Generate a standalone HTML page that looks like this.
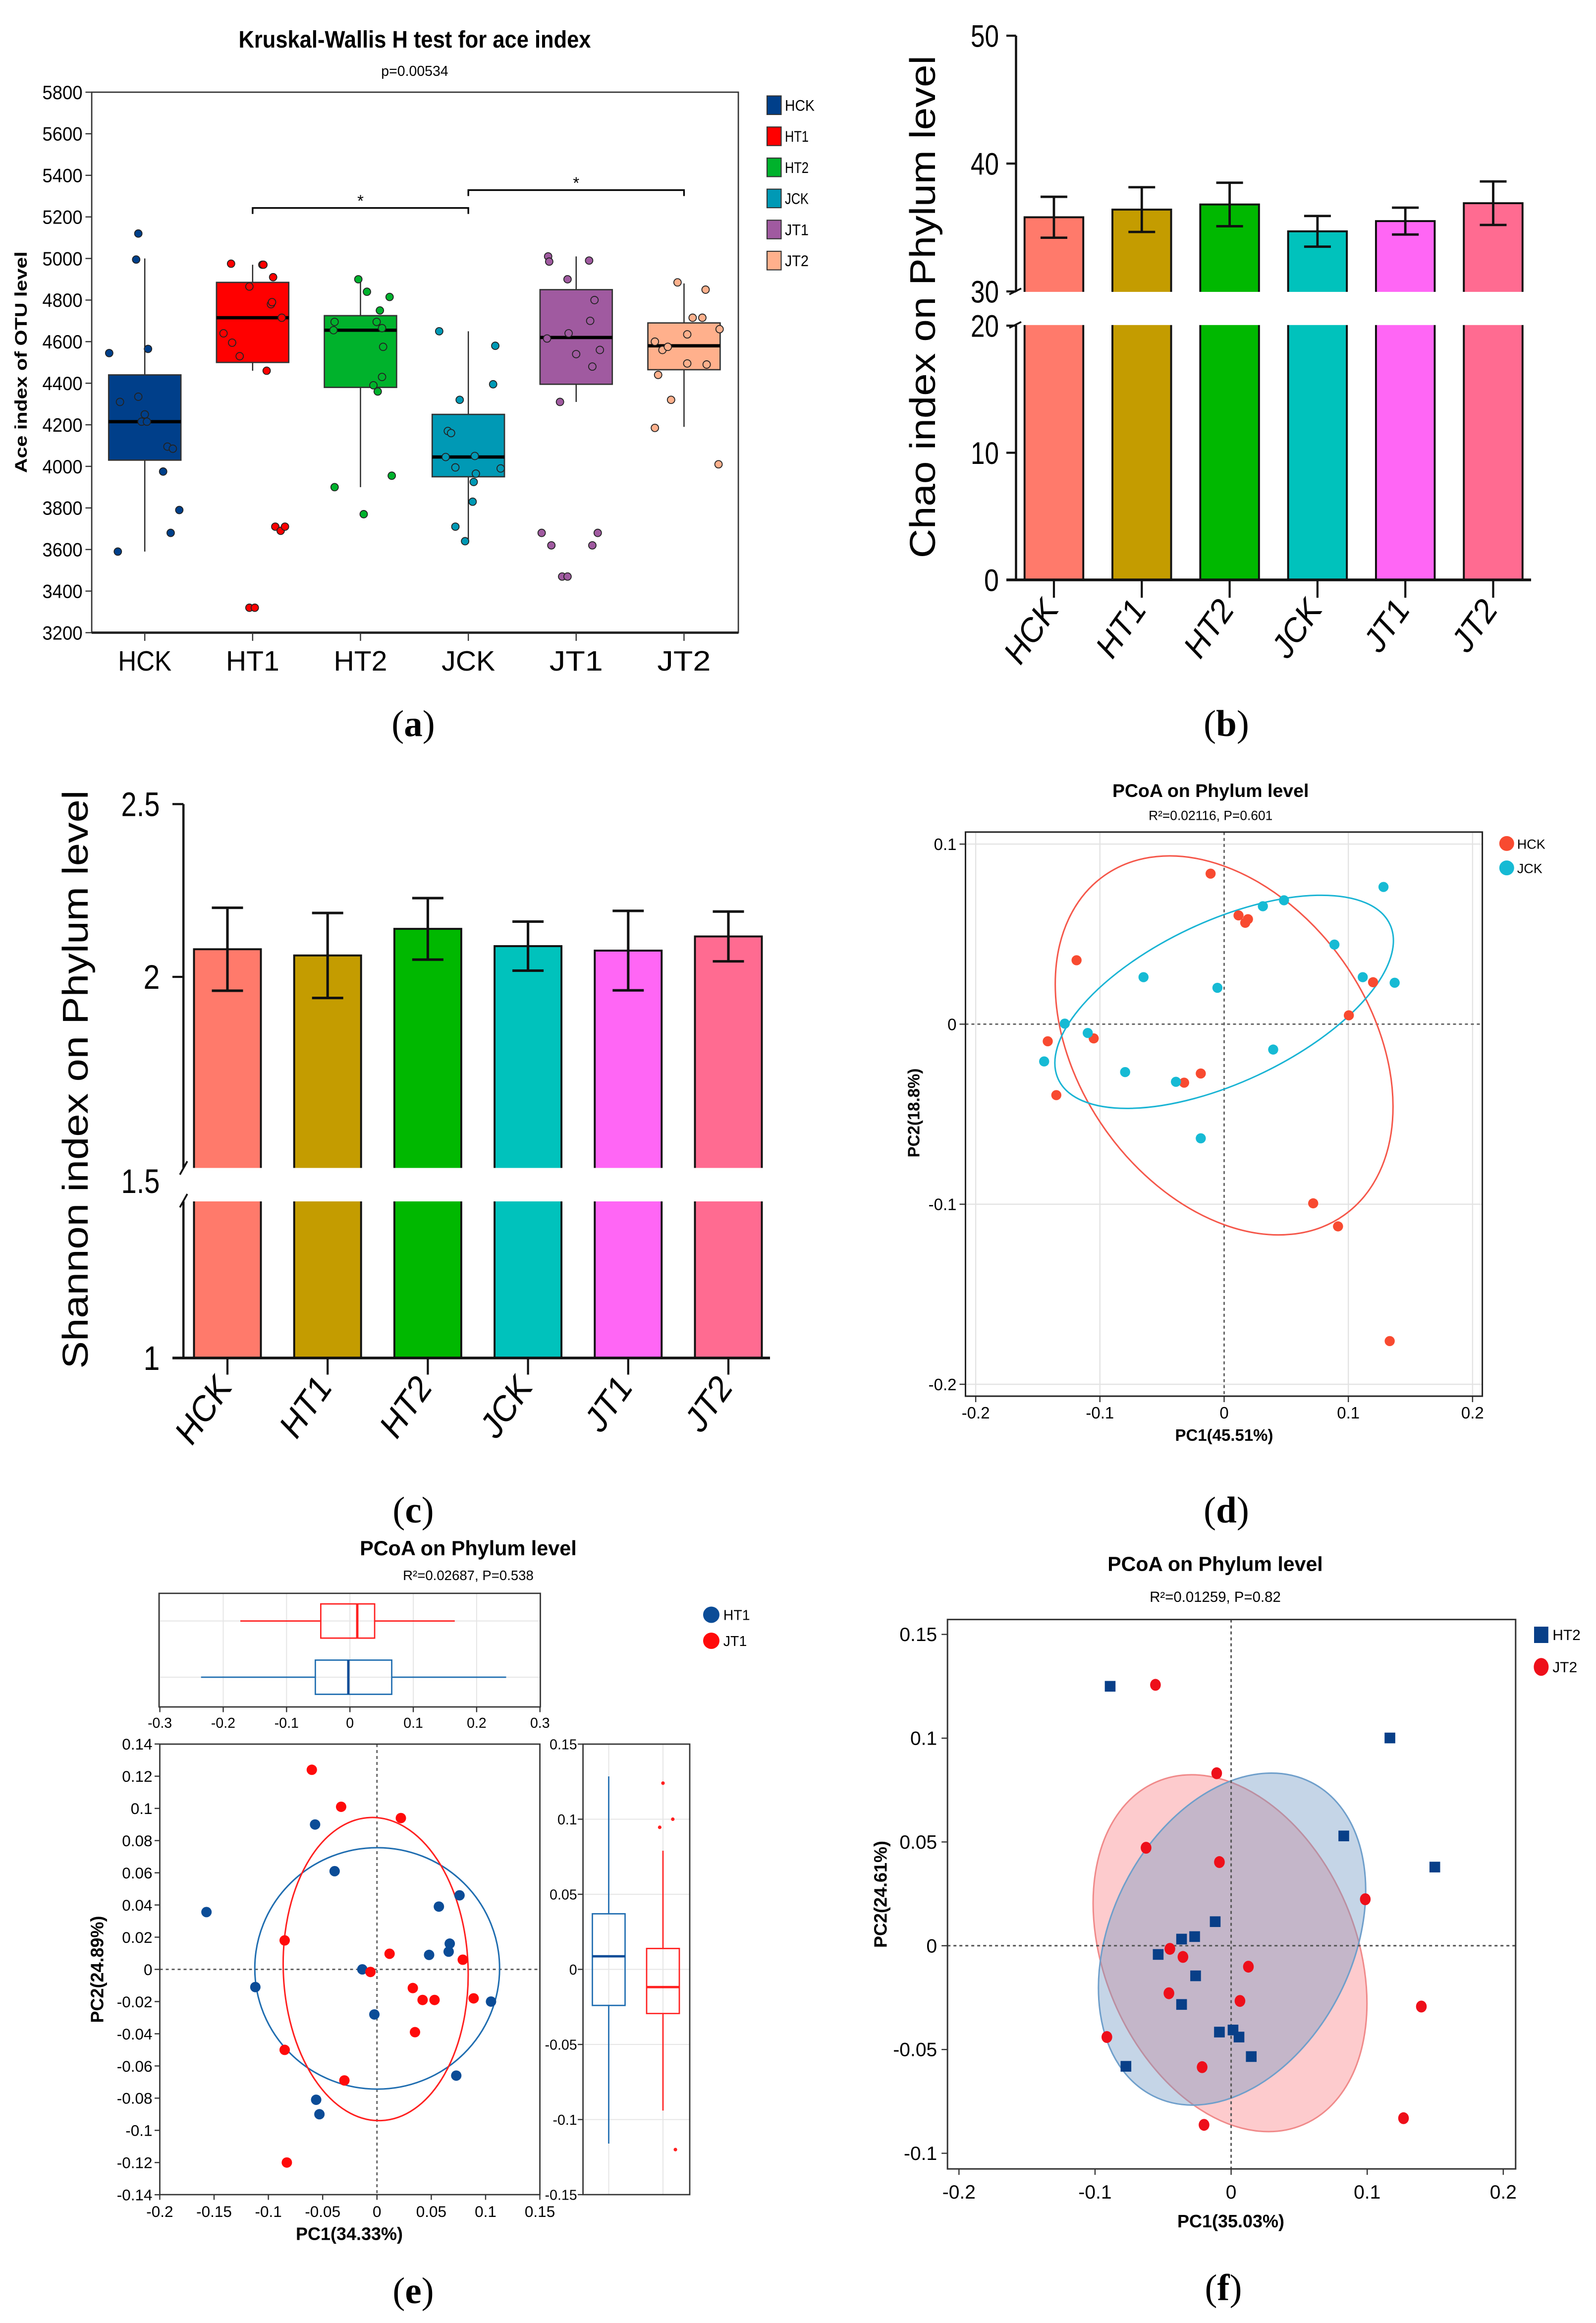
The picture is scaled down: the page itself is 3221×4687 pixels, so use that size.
<!DOCTYPE html>
<html><head><meta charset="utf-8"><title>Alpha and beta diversity figure</title>
<style>
html,body{margin:0;padding:0;background:#fff;}
svg{display:block;font-family:"Liberation Sans",Arial,sans-serif;}
.lbl{font-family:"Liberation Serif",serif;font-size:25px;}
</style></head>
<body>
<svg id="fig" xmlns="http://www.w3.org/2000/svg" width="3221" height="4687" viewBox="0 0 1073.667 1562.333">
<rect x="0" y="0" width="1073.667" height="1562.333" fill="#fff"/>

<!-- Panel a static -->
<text x="279" y="32" text-anchor="middle" font-weight="bold" font-size="16" textLength="237" lengthAdjust="spacingAndGlyphs">Kruskal-Wallis H test for ace index</text>
<text x="279" y="51" text-anchor="middle" font-size="9.5">p=0.00534</text>
<text transform="translate(18,243.6) rotate(-90)" text-anchor="middle" font-weight="bold" font-size="11.5" textLength="149" lengthAdjust="spacingAndGlyphs">Ace index of OTU level</text>
<text class="lbl" x="278" y="495" text-anchor="middle">(<tspan font-weight="bold">a</tspan>)</text>

<!-- Panel b static -->
<text transform="translate(629,206.4) rotate(-90)" text-anchor="middle" font-size="24" textLength="338" lengthAdjust="spacingAndGlyphs">Chao index on Phylum level</text>
<text class="lbl" x="825" y="495" text-anchor="middle">(<tspan font-weight="bold">b</tspan>)</text>

<!-- Panel c static -->
<text transform="translate(59,726) rotate(-90)" text-anchor="middle" font-size="24" textLength="389" lengthAdjust="spacingAndGlyphs">Shannon index on Phylum level</text>
<text class="lbl" x="278" y="1024" text-anchor="middle">(<tspan font-weight="bold">c</tspan>)</text>

<!-- Panel d static -->
<text x="814.4" y="536" text-anchor="middle" font-weight="bold" font-size="12.5">PCoA on Phylum level</text>
<text x="814.4" y="551.5" text-anchor="middle" font-size="8.8">R²=0.02116, P=0.601</text>
<text x="823.5" y="969" text-anchor="middle" font-weight="bold" font-size="11">PC1(45.51%)</text>
<text transform="translate(618.5,748.5) rotate(-90)" text-anchor="middle" font-weight="bold" font-size="11">PC2(18.8%)</text>
<text class="lbl" x="825" y="1024" text-anchor="middle">(<tspan font-weight="bold">d</tspan>)</text>

<!-- Panel e static -->
<text x="315" y="1046" text-anchor="middle" font-weight="bold" font-size="13.8">PCoA on Phylum level</text>
<text x="315" y="1062.6" text-anchor="middle" font-size="9.2">R²=0.02687, P=0.538</text>
<text x="235" y="1506.5" text-anchor="middle" font-weight="bold" font-size="12">PC1(34.33%)</text>
<text transform="translate(69.5,1324.5) rotate(-90)" text-anchor="middle" font-weight="bold" font-size="12">PC2(24.89%)</text>
<text class="lbl" x="278" y="1549" text-anchor="middle">(<tspan font-weight="bold">e</tspan>)</text>

<!-- Panel f static -->
<text x="817.5" y="1056.5" text-anchor="middle" font-weight="bold" font-size="13.7">PCoA on Phylum level</text>
<text x="817.5" y="1077.3" text-anchor="middle" font-size="9.8">R²=0.01259, P=0.82</text>
<text x="828" y="1498" text-anchor="middle" font-weight="bold" font-size="12">PC1(35.03%)</text>
<text transform="translate(596.5,1274) rotate(-90)" text-anchor="middle" font-weight="bold" font-size="12">PC2(24.61%)</text>
<text class="lbl" x="823" y="1547" text-anchor="middle">(<tspan font-weight="bold">f</tspan>)</text>
</svg>

<script>
const groups=['HCK','HT1','HT2','JCK','JT1','JT2'];
// ---- panel a data ----
const aTicks=[3200,3400,3600,3800,4000,4200,4400,4600,4800,5000,5200,5400,5600,5800];
const aQ1=[4030,4500,4380,3950,4395,4465];
const aMedian=[4215,4715,4655,4045,4620,4580];
const aQ3=[4440,4885,4725,4250,4850,4690];
const aLow=[3590,4460,3900,3630,4310,4190];
const aHigh=[5000,4970,4900,4650,5010,4880];
const aPointValues=[
 [4545,4995,5120,4565,4310,4335,4250,4215,4215,4095,4085,3975,3790,3680,3590],
 [4975,4970,4970,4910,4865,4780,4790,4715,4640,4595,4530,4460,3710,3690,3710,3320,3320],
 [4900,4840,4815,4750,4695,4695,4665,4655,4575,4430,4390,4360,3900,3955,3770],
 [4650,4580,4320,4395,4170,4160,4045,4050,3995,3965,3990,3925,3830,3710,3640],
 [5010,4985,4990,4900,4800,4700,4615,4640,4540,4560,4480,4310,3680,3680,3620,3620,3470,3470],
 [4885,4850,4715,4715,4660,4635,4600,4560,4575,4495,4490,4440,4320,4185,4010]];
const aPointJitter=[
 [-.33,-.08,-.06,.03,-.23,-.06,0,-.03,.02,.21,.26,.17,.32,.24,-.25],
 [-.2,.09,.1,.19,-.03,.17,.18,.27,-.27,-.19,-.12,.13,.21,.26,.3,-.03,.02],
 [-.02,.06,.27,.18,-.24,.15,.2,-.25,.21,.2,.12,.16,-.24,.29,.03],
 [-.27,.25,-.08,.23,-.19,-.16,-.21,.06,-.12,.07,.3,.05,.04,-.12,-.03],
 [-.26,-.25,.12,-.08,.17,.13,-.27,-.07,0,.22,.15,-.15,-.32,.2,-.23,.15,-.13,-.08],
 [-.06,.2,.08,.17,.33,.03,-.27,-.2,-.15,.03,.21,-.24,-.12,-.27,.32]];
const aBracketFrom=[1,3];
const aBracketTo=[3,5];
const aBracketLevel=[5243,5329];
// ---- panel b data ----
const bTicksUpper=[30,40,50];
const bTicksLower=[0,10,20];
const bValues=[35.8,36.4,36.8,34.7,35.5,36.9];
const bErrors=[1.6,1.75,1.7,1.2,1.05,1.7];
// ---- panel c data ----
const cTicksUpper=[2,2.5];
const cTicksLower=[1,1.5];
const cValues=[2.08,2.062,2.139,2.089,2.076,2.117];
const cErrors=[0.12,0.123,0.089,0.071,0.115,0.072];
// ---- panel d data ----
const dXTicks=[-0.2,-0.1,0,0.1,0.2];
const dYTicks=[-0.2,-0.1,0,0.1];
const dHckX=[-0.0109,0.0116,0.0192,0.017,-0.1188,0.1199,0.1004,-0.142,-0.105,-0.1351,-0.0188,-0.0322,0.0717,0.0917,0.1333];
const dHckY=[0.0836,0.0604,0.0583,0.0563,0.0355,0.0233,0.0049,-0.0095,-0.0079,-0.0394,-0.0274,-0.0325,-0.0995,-0.1123,-0.176];
const dJckX=[0.1283,0.0482,0.0312,0.0888,0.1116,0.1373,-0.0649,-0.0054,-0.1283,-0.1098,-0.1449,-0.0797,-0.0388,0.0395,-0.0188];
const dJckY=[0.0762,0.0688,0.0655,0.0442,0.0261,0.023,0.0261,0.0202,0.0003,-0.0049,-0.0207,-0.0266,-0.032,-0.0141,-0.0634];
// ellipse: [cx, cy, semi-major, semi-minor (data units along rotated axes, px scale), angle]
const dHckEllipse=[0,-0.0118,139.8,98,54.8];
const dJckEllipse=[0,0.0124,123.1,54.3,-25.05];
// ---- panel e data ----
const eXTicks=[-0.2,-0.15,-0.1,-0.05,0,0.05,0.1,0.15];
const eYTicks=[-0.14,-0.12,-0.1,-0.08,-0.06,-0.04,-0.02,0,0.02,0.04,0.06,0.08,0.1,0.12,0.14];
const eTopTicks=[-0.3,-0.2,-0.1,0,0.1,0.2,0.3];
const eRightTicks=[-0.15,-0.1,-0.05,0,0.05,0.1,0.15];
const eHt1X=[-0.157,-0.057,-0.039,0.076,0.057,0.067,0.066,0.048,-0.0135,-0.112,-0.0024,0.105,0.073,-0.056,-0.053];
const eHt1Y=[0.0356,0.090,0.061,0.046,0.039,0.016,0.011,0.009,0,-0.011,-0.028,-0.020,-0.066,-0.081,-0.090];
const eJt1X=[-0.060,-0.033,0.022,-0.085,0.0116,-0.006,0.033,0.042,0.053,0.079,0.089,0.035,-0.085,-0.030,-0.083];
const eJt1Y=[0.124,0.101,0.094,0.018,0.0097,-0.0016,-0.0116,-0.019,-0.019,0.006,-0.018,-0.039,-0.050,-0.069,-0.120];
const eHt1Ellipse=[0.0002,0.0006,0.1127,0.075];
const eJt1Ellipse=[-0.0012,0.0002,0.0851,0.0942];
const eTopHt1=[-0.235,-0.0546,-0.0025,0.066,0.2466];
const eTopJt1=[-0.173,-0.046,0.0116,0.039,0.1655];
const eRightHt1=[-0.116,-0.024,0.0087,0.037,0.1285];
const eRightJt1=[-0.094,-0.0294,-0.0118,0.0139,0.079];
const eRightJt1OutY=[0.124,0.100,0.0946,-0.120];
const eRightJt1OutJitter=[0,0.3,-0.1,0.38];
// ---- panel f data ----
const fXTicks=[-0.2,-0.1,0,0.1,0.2];
const fYTicks=[-0.1,-0.05,0,0.05,0.1,0.15];
const fHt2X=[-0.0889,0.1167,0.0828,0.1497,-0.0117,-0.0364,-0.0268,-0.0536,-0.0261,-0.0364,-0.0086,0.0014,0.0058,0.0148,-0.0773];
const fHt2Y=[0.125,0.1001,0.0529,0.0379,0.0116,0.0032,0.0044,-0.0042,-0.0145,-0.0283,-0.0416,-0.0406,-0.044,-0.0534,-0.0581];
const fJt2X=[-0.0556,-0.0106,-0.0625,-0.0086,0.0986,-0.045,-0.0354,0.0127,-0.0457,0.0065,-0.0913,-0.0213,0.1398,0.1267,-0.0199];
const fJt2Y=[0.1257,0.0831,0.0472,0.0403,0.0224,-0.0015,-0.0054,-0.0101,-0.0229,-0.0266,-0.044,-0.0585,-0.0293,-0.0831,-0.0863];
const fHt2Ellipse=[0.0007,0.0032,118.1,81.2,-63.3];
const fJt2Ellipse=[-0.0008,-0.0036,125.4,84.6,66.85];

const aColors=['#003f8a','#ff0000','#00b22c','#0099b5','#a05aa0','#ffb08c'];
const barColors=['#ff7a6b','#c49c00','#00b800','#00c2bc','#ff66f5','#ff6b91'];

const svg=document.getElementById('fig');
const NS='http://www.w3.org/2000/svg';
function mk(tag,attrs){const e=document.createElementNS(NS,tag);for(const k in attrs)e.setAttribute(k,attrs[k]);svg.appendChild(e);return e;}
function tx(str,attrs){const e=mk('text',attrs);e.textContent=str;return e;}
function fmt(v){return String(+v.toFixed(3));}

// ================= PANEL A =================
const aX=i=>97.4+i*72.55;
const aY=v=>425.5-(v-3200)*363.5/2600;
let el;
el=mk('rect',{x:61.7,y:aY(5800),width:435,height:aY(3200)-aY(5800),fill:'none',stroke:'#333','stroke-width':0.9});


el=mk('line',{x1:61.7,x2:496.7,y1:aY(3200),y2:aY(3200),stroke:'#222','stroke-width':1.6});


aTicks.forEach(t=>{
  let e=mk('line',{x1:57.5,x2:61.7,y1:aY(t),y2:aY(t),stroke:'#333','stroke-width':0.8});
  
  
  e=tx(String(t),{x:55.5,y:aY(t)+4.6,'text-anchor':'end','font-size':13,textLength:27,lengthAdjust:'spacingAndGlyphs'});
  
  
});
groups.forEach((g,i)=>{
  const cx=aX(i);
  let e=mk('line',{x1:cx,x2:cx,y1:aY(3200),y2:aY(3200)+5.5,stroke:'#333','stroke-width':0.8});
  
  
  e=tx(g,{x:cx,y:451,'text-anchor':'middle','font-size':19,textLength:36,lengthAdjust:'spacingAndGlyphs'});
  
  
  e=mk('line',{x1:cx,x2:cx,y1:aY(aHigh[i]),y2:aY(aLow[i]),stroke:'#222','stroke-width':0.8});
  
  
  e=mk('rect',{x:cx-24.3,y:aY(aQ3[i]),width:48.6,height:aY(aQ1[i])-aY(aQ3[i]),fill:aColors[i],stroke:'#333','stroke-width':0.9});
  
  
  e=mk('line',{x1:cx-24.3,x2:cx+24.3,y1:aY(aMedian[i]),y2:aY(aMedian[i]),stroke:'#000','stroke-width':2.2});
  
  
  aPointValues[i].forEach((v,k)=>{
    const p=mk('circle',{cx:cx+aPointJitter[i][k]*72.55,cy:aY(v),r:2.5,fill:aColors[i],stroke:'#222','stroke-width':0.6});
    
    
  });
  // legend
  e=mk('rect',{x:516,y:64.5+i*20.9,width:9.5,height:12.5,fill:aColors[i],stroke:'#333','stroke-width':0.7});
  
  
  e=tx(g,{x:528,y:74.5+i*20.9,'font-size':10.5,textLength:g==='HCK'?20:16,lengthAdjust:'spacingAndGlyphs'});
  
  
});
aBracketLevel.forEach((lv,k)=>{
  const x1=aX(aBracketFrom[k]),x2=aX(aBracketTo[k]),y=aY(lv);
  let e=mk('path',{d:`M${x1},${y+4}V${y}H${x2}V${y+4}`,fill:'none',stroke:'#000','stroke-width':1.1});
  
  
  e=tx('*',{x:(x1+x2)/2,y:y-1,'text-anchor':'middle','font-size':11});
  
  
});

// ================= PANEL B =================
const bX=i=>709+i*59.1;
const bYLower=v=>390-v*8.55;
const bYUpper=v=>196-(v-30)*8.6;
const bAxisX=683.5;
groups.forEach((g,i)=>{
  const cx=bX(i),top=bYUpper(bValues[i]);
  let e=mk('rect',{x:cx-19.75,y:top,width:39.5,height:390-top,fill:barColors[i],stroke:'#111','stroke-width':1.3});
  
  
});
el=mk('rect',{x:686,y:196.3,width:350,height:22.3,fill:'#fff'});


groups.forEach((g,i)=>{
  const cx=bX(i),v=bValues[i],er=bErrors[i];
  const y1=bYUpper(v+er),y2=bYUpper(v-er);
  let e=mk('path',{d:`M${cx},${y1}V${y2}M${cx-9},${y1}H${cx+9}M${cx-9},${y2}H${cx+9}`,fill:'none',stroke:'#111','stroke-width':1.6});
  
  
  e=mk('line',{x1:cx,x2:cx,y1:390,y2:402,stroke:'#111','stroke-width':1.4});
  
  
  e=tx(g,{x:cx+4,y:410,transform:`rotate(-55 ${cx+4} 410)`,'text-anchor':'end','font-size':22,'font-style':'italic'});
  
  
});
el=mk('path',{d:`M${bAxisX},${bYUpper(50)}V196.3M${bAxisX},218.6V390`,fill:'none',stroke:'#111','stroke-width':1.5});


el=mk('line',{x1:677,x2:1030,y1:390,y2:390,stroke:'#111','stroke-width':1.8});


el=mk('path',{d:`M679,198L687,194M679,220.5L687,216.5`,fill:'none',stroke:'#111','stroke-width':1.2});


bTicksUpper.concat(bTicksLower).forEach(t=>{
  const y=t>=30?bYUpper(t):bYLower(t);
  let e=mk('line',{x1:677,x2:bAxisX,y1:y,y2:y,stroke:'#111','stroke-width':1.4});
  
  
  e=tx(String(t),{x:672,y:y+7.5,'text-anchor':'end','font-size':21,textLength:t<10?10:19,lengthAdjust:'spacingAndGlyphs'});
  
  
});

// ================= PANEL C =================
const cX=i=>153+i*67.4;
const cYUpper=v=>657-(v-2)*232.4;
const cYLower=v=>913.3-(v-1)*238;
const cAxisX=123.4;
groups.forEach((g,i)=>{
  const cx=cX(i),top=cYUpper(cValues[i]);
  let e=mk('rect',{x:cx-22.5,y:top,width:45,height:913.3-top,fill:barColors[i],stroke:'#111','stroke-width':1.3});
  
  
});
el=mk('rect',{x:126,y:785.5,width:400,height:22.5,fill:'#fff'});


groups.forEach((g,i)=>{
  const cx=cX(i),v=cValues[i],er=cErrors[i];
  const y1=cYUpper(v+er),y2=cYUpper(v-er);
  let e=mk('path',{d:`M${cx},${y1}V${y2}M${cx-10.5},${y1}H${cx+10.5}M${cx-10.5},${y2}H${cx+10.5}`,fill:'none',stroke:'#111','stroke-width':1.7});
  
  
  e=mk('line',{x1:cx,x2:cx,y1:913.3,y2:924.5,stroke:'#111','stroke-width':1.4});
  
  
  e=tx(g,{x:cx+4,y:933,transform:`rotate(-55 ${cx+4} 933)`,'text-anchor':'end','font-size':23,'font-style':'italic'});
  
  
});
el=mk('path',{d:`M${cAxisX},${cYUpper(2.5)}V785.5M${cAxisX},808V913.3`,fill:'none',stroke:'#111','stroke-width':1.5});


el=mk('line',{x1:116,x2:518,y1:913.3,y2:913.3,stroke:'#111','stroke-width':1.8});


el=mk('path',{d:`M121,790L126,781M121,812L126,803`,fill:'none',stroke:'#111','stroke-width':1.2});


cTicksUpper.concat(cTicksLower).forEach(t=>{
  const y=t>=2?cYUpper(t):cYLower(t);
  if(t!==1.5){
    const e=mk('line',{x1:116,x2:cAxisX,y1:y,y2:y,stroke:'#111','stroke-width':1.4});
    
    
  }
  const lab=tx(String(t),{x:107.5,y:y+8,'text-anchor':'end','font-size':23,textLength:String(t).length>1?26:11,lengthAdjust:'spacingAndGlyphs'});
  
  
});

// ================= PCoA helpers =================
function rotEllipse(cxp,cyp,a,b,ang,stroke,fill,name){
  const e=mk('ellipse',{cx:cxp,cy:cyp,rx:a,ry:b,transform:`rotate(${ang} ${cxp} ${cyp})`,fill:fill,stroke:stroke,'stroke-width':1});
  return e;
}

// ================= PANEL D =================
const dX=v=>823.5+v*835.6;
const dY=v=>688.8-v*1211;
const dL=649.5,dR=997.2,dT=559.6,dB=939;
dXTicks.forEach(t=>{
  if(t!==0){
    const g=mk('line',{x1:dX(t),x2:dX(t),y1:dT,y2:dB,stroke:'#e3e3e3','stroke-width':0.8});
    
    
  }
  let e=mk('line',{x1:dX(t),x2:dX(t),y1:dB,y2:dB+4,stroke:'#333','stroke-width':0.8});
  
  
  e=tx(fmt(t),{x:dX(t),y:dB+15,'text-anchor':'middle','font-size':11});
  
  
});
dYTicks.forEach(t=>{
  if(t!==0){
    const g=mk('line',{x1:dL,x2:dR,y1:dY(t),y2:dY(t),stroke:'#e3e3e3','stroke-width':0.8});
    
    
  }
  let e=mk('line',{x1:dL-4,x2:dL,y1:dY(t),y2:dY(t),stroke:'#333','stroke-width':0.8});
  
  
  e=tx(fmt(t),{x:dL-6,y:dY(t)+4,'text-anchor':'end','font-size':11});
  
  
});
el=mk('path',{d:`M${dX(0)},${dT}V${dB}M${dL},${dY(0)}H${dR}`,fill:'none',stroke:'#666','stroke-width':1,'stroke-dasharray':'2 2'});


el=rotEllipse(dX(dHckEllipse[0]),dY(dHckEllipse[1]),dHckEllipse[2],dHckEllipse[3],dHckEllipse[4],'#f5574a','none');


el=rotEllipse(dX(dJckEllipse[0]),dY(dJckEllipse[1]),dJckEllipse[2],dJckEllipse[3],dJckEllipse[4],'#1ab4d4','none');


dHckX.forEach((x,k)=>{
  const p=mk('circle',{cx:dX(x),cy:dY(dHckY[k]),r:3.4,fill:'#f84a30'});
  
  
});
dJckX.forEach((x,k)=>{
  const p=mk('circle',{cx:dX(x),cy:dY(dJckY[k]),r:3.4,fill:'#16bad4'});
  
  
});
el=mk('rect',{x:dL,y:dT,width:dR-dL,height:dB-dT,fill:'none',stroke:'#222','stroke-width':1});


el=mk('circle',{cx:1013.6,cy:567.3,r:5,fill:'#f84a30'});


el=tx('HCK',{x:1020.6,y:570.8,'font-size':9});


el=mk('circle',{cx:1013.6,cy:583.7,r:5,fill:'#16bad4'});


el=tx('JCK',{x:1020.6,y:587.2,'font-size':9});



// ================= PANEL E =================
const eX=v=>253.6+v*730.6;
const eY=v=>1324.5-v*1082.6;
const eL=107.5,eR=363.2,eT=1173,eB=1476;
const eTX=v=>235.4+v*426.2;
const eRY=v=>1324.5-v*1010;
const tL=107,tR=363.5,tT=1071.6,tB=1148;
const rL=392.2,rR=464;
// top box panel grid
eTopTicks.forEach(t=>{
  let g=mk('line',{x1:eTX(t),x2:eTX(t),y1:tT,y2:tB,stroke:'#e6e6e6','stroke-width':0.7});
  
  
  g=mk('line',{x1:eTX(t),x2:eTX(t),y1:tB,y2:tB+3.5,stroke:'#333','stroke-width':0.8});
  
  
  g=tx(fmt(t),{x:eTX(t),y:tB+14,'text-anchor':'middle','font-size':9.5});
  
  
});
[1090.2,1128].forEach(y=>{
  const g=mk('line',{x1:tL,x2:tR,y1:y,y2:y,stroke:'#e6e6e6','stroke-width':0.7});
  
  
});
function hBox(st,yc,col,name){
  const h=11.5;
  const e=mk('path',{d:`M${eTX(st[0])},${yc}H${eTX(st[1])}M${eTX(st[3])},${yc}H${eTX(st[4])}M${eTX(st[1])},${yc-h}H${eTX(st[3])}V${yc+h}H${eTX(st[1])}Z`,fill:'none',stroke:col,'stroke-width':0.9});
  return e;
}
el=hBox(eTopJt1,1090.2,'#ff2020');


el=mk('line',{x1:eTX(eTopJt1[2]),x2:eTX(eTopJt1[2]),y1:1078.7,y2:1101.7,stroke:'#ff2020','stroke-width':1.6});


el=hBox(eTopHt1,1128,'#1f6db0');


el=mk('line',{x1:eTX(eTopHt1[2]),x2:eTX(eTopHt1[2]),y1:1116.5,y2:1139.5,stroke:'#0b4c97','stroke-width':1.6});


el=mk('rect',{x:tL,y:tT,width:tR-tL,height:tB-tT,fill:'none',stroke:'#333','stroke-width':0.9});


// right box panel
eRightTicks.forEach(t=>{
  let g=mk('line',{x1:rL,x2:rR,y1:eRY(t),y2:eRY(t),stroke:'#e6e6e6','stroke-width':0.7});
  
  
  g=mk('line',{x1:rL-3.5,x2:rL,y1:eRY(t),y2:eRY(t),stroke:'#333','stroke-width':0.8});
  
  
  g=tx(fmt(t),{x:rL-4,y:eRY(t)+3.5,'text-anchor':'end','font-size':9.5});
  
  
});
[409.5,446].forEach(x=>{
  const g=mk('line',{x1:x,x2:x,y1:eT,y2:eB,stroke:'#e6e6e6','stroke-width':0.7});
  
  
});
function vBox(st,xc,col){
  const w=11;
  return mk('path',{d:`M${xc},${eRY(st[0])}V${eRY(st[1])}M${xc},${eRY(st[3])}V${eRY(st[4])}M${xc-w},${eRY(st[1])}V${eRY(st[3])}H${xc+w}V${eRY(st[1])}Z`,fill:'none',stroke:col,'stroke-width':0.9});
}
el=vBox(eRightHt1,409.5,'#1f6db0');


el=mk('line',{x1:398.5,x2:420.5,y1:eRY(eRightHt1[2]),y2:eRY(eRightHt1[2]),stroke:'#0b4c97','stroke-width':1.6});


el=vBox(eRightJt1,446,'#ff2020');


el=mk('line',{x1:435,x2:457,y1:eRY(eRightJt1[2]),y2:eRY(eRightJt1[2]),stroke:'#ff2020','stroke-width':1.6});


eRightJt1OutY.forEach((v,k)=>{
  const p=mk('circle',{cx:446+eRightJt1OutJitter[k]*22,cy:eRY(v),r:1.2,fill:'#ff2020'});
  
  
});
el=mk('rect',{x:rL,y:eT,width:rR-rL,height:eB-eT,fill:'none',stroke:'#333','stroke-width':0.9});


// main scatter
eXTicks.forEach(t=>{
  let e=mk('line',{x1:eX(t),x2:eX(t),y1:eB,y2:eB+3.5,stroke:'#333','stroke-width':0.8});
  
  
  e=tx(fmt(t),{x:eX(t),y:eB+15,'text-anchor':'middle','font-size':10.5});
  
  
});
eYTicks.forEach(t=>{
  let e=mk('line',{x1:eL-3.5,x2:eL,y1:eY(t),y2:eY(t),stroke:'#333','stroke-width':0.8});
  
  
  e=tx(fmt(t),{x:eL-5,y:eY(t)+3.8,'text-anchor':'end','font-size':10.5});
  
  
});
el=mk('path',{d:`M${eX(0)},${eT}V${eB}M${eL},${eY(0)}H${eR}`,fill:'none',stroke:'#666','stroke-width':1,'stroke-dasharray':'2 2'});


el=mk('ellipse',{cx:eX(eHt1Ellipse[0]),cy:eY(eHt1Ellipse[1]),rx:eHt1Ellipse[2]*730.6,ry:eHt1Ellipse[3]*1082.6,fill:'none',stroke:'#1f6db0','stroke-width':1});


el=mk('ellipse',{cx:eX(eJt1Ellipse[0]),cy:eY(eJt1Ellipse[1]),rx:eJt1Ellipse[2]*730.6,ry:eJt1Ellipse[3]*1082.6,fill:'none',stroke:'#ff2020','stroke-width':1,transform:`rotate(-2 ${eX(eJt1Ellipse[0])} ${eY(eJt1Ellipse[1])})`});


eHt1X.forEach((x,k)=>{
  const p=mk('circle',{cx:eX(x),cy:eY(eHt1Y[k]),r:3.5,fill:'#0b4c97'});
  
  
});
eJt1X.forEach((x,k)=>{
  const p=mk('circle',{cx:eX(x),cy:eY(eJt1Y[k]),r:3.5,fill:'#ff0a0a'});
  
  
});
el=mk('rect',{x:eL,y:eT,width:eR-eL,height:eB-eT,fill:'none',stroke:'#333','stroke-width':0.9});


el=mk('circle',{cx:478.5,cy:1086,r:5.5,fill:'#0b4c97'});


el=tx('HT1',{x:486.6,y:1089.5,'font-size':9.5});


el=mk('circle',{cx:478.5,cy:1103.5,r:5.5,fill:'#ff0a0a'});


el=tx('JT1',{x:486.6,y:1107,'font-size':9.5});



// ================= PANEL F =================
const fX=v=>828.2+v*915.4;
const fY=v=>1308.6-v*1395.9;
const fL=637.4,fR=1019.6,fT=1089.2,fB=1458.7;
fXTicks.forEach(t=>{
  let e=mk('line',{x1:fX(t),x2:fX(t),y1:fB,y2:fB+4,stroke:'#333','stroke-width':0.8});
  
  
  e=tx(fmt(t),{x:fX(t),y:fB+20,'text-anchor':'middle','font-size':13});
  
  
});
fYTicks.forEach(t=>{
  let e=mk('line',{x1:fL-4,x2:fL,y1:fY(t),y2:fY(t),stroke:'#333','stroke-width':0.8});
  
  
  e=tx(fmt(t),{x:fL-7,y:fY(t)+4.5,'text-anchor':'end','font-size':13});
  
  
});
el=rotEllipse(fX(fJt2Ellipse[0]),fY(fJt2Ellipse[1]),fJt2Ellipse[2],fJt2Ellipse[3],fJt2Ellipse[4],'#f08a8a','rgba(250,130,135,0.42)');


el=rotEllipse(fX(fHt2Ellipse[0]),fY(fHt2Ellipse[1]),fHt2Ellipse[2],fHt2Ellipse[3],fHt2Ellipse[4],'#6f9fcb','rgba(110,150,195,0.40)');


el=mk('path',{d:`M${fX(0)},${fT}V${fB}M${fL},${fY(0)}H${fR}`,fill:'none',stroke:'#555','stroke-width':1,'stroke-dasharray':'2 2'});


fHt2X.forEach((x,k)=>{
  const p=mk('rect',{x:fX(x)-3.6,y:fY(fHt2Y[k])-3.6,width:7.2,height:7.2,fill:'#083f88'});
  
  
});
fJt2X.forEach((x,k)=>{
  const p=mk('ellipse',{cx:fX(x),cy:fY(fJt2Y[k]),rx:3.6,ry:4,fill:'#ee0f1a'});
  
  
});
el=mk('rect',{x:fL,y:fT,width:fR-fL,height:fB-fT,fill:'none',stroke:'#333','stroke-width':1});


el=mk('rect',{x:1032,y:1094,width:9.6,height:11,fill:'#083f88'});


el=tx('HT2',{x:1044.4,y:1103,'font-size':10});


el=mk('ellipse',{cx:1036.8,cy:1121.1,rx:5,ry:6,fill:'#ee0f1a'});


el=tx('JT2',{x:1044.4,y:1124.6,'font-size':10});


</script>
</body></html>
